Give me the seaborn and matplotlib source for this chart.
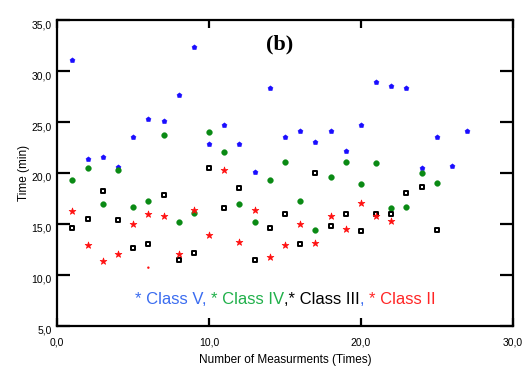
import matplotlib
matplotlib.use("Agg")
import matplotlib.pyplot as plt
import matplotlib.transforms as mtransforms
import seaborn as sns
import pandas as pd

# ---- data ----
x_v = list(range(1, 28))
class_v = [31.05, 21.4, 21.6, 20.56, 23.53, 25.33, 25.13, 27.65, 32.39, 22.81,
           24.74, 22.81, 20.1, 28.37, 23.53, 24.12, 23.01, 24.12, 22.19, 24.74,
           28.95, 28.56, 28.37, 20.52, 23.53, 20.72, 24.12]
x_iv = list(range(1, 26))
class_iv = [19.28, 20.49, 16.99, 20.3, 16.67, 17.29, 23.73, 15.17, 16.05, 24.02,
            22.03, 16.99, 15.17, 19.28, 21.11, 17.29, 14.38, 19.61, 21.11, 18.89,
            21.01, 16.6, 16.7, 20.0, 18.99]
x_iii = list(range(1, 26))
class_iii = [14.58, 15.46, 18.2, 15.36, 12.65, 13.07, 17.88, 11.47, 12.16, 20.49,
             16.57, 18.56, 11.47, 14.58, 15.98, 13.04, 20.0, 14.77, 15.98, 14.28,
             15.98, 15.98, 18.01, 18.6, 14.38]
x_ii = list(range(1, 23))
class_ii = [16.27, 12.94, 11.34, 12.03, 14.97, 15.98, 15.78, 12.03, 16.37, 13.95,
            20.3, 13.27, 16.37, 11.73, 12.94, 14.97, 13.14, 15.75, 14.48, 17.09,
            15.78, 15.26]
x_ii_extra = [6]
class_ii_extra = [10.72]

x_ticks = [0, 10, 20, 30]
y_ticks = [5, 10, 15, 20, 25, 30, 35]
x_label = "Number of Measurments (Times)"
y_label = "Time (min)"
panel = "(b)"

sns.set_theme(style="ticks")
plt.rcParams["font.family"] = ["Liberation Sans", "DejaVu Sans"]
plt.rcParams["text.color"] = "black"
plt.rcParams["axes.labelcolor"] = "black"

fig = plt.figure(figsize=(5.27, 3.72), dpi=100)
ax = fig.add_axes([0.1087, 0.1237, 0.8642, 0.8225])

df_v = pd.DataFrame({"x": x_v, "y": class_v})
df_iv = pd.DataFrame({"x": x_iv, "y": class_iv})
df_iii = pd.DataFrame({"x": x_iii, "y": class_iii})
df_ii = pd.DataFrame({"x": x_ii, "y": class_ii})
df_ii2 = pd.DataFrame({"x": x_ii_extra, "y": class_ii_extra})

sns.scatterplot(data=df_v, x="x", y="y", ax=ax, marker="p", color="#1a0dff",
                s=15, edgecolor="#1a0dff", linewidth=0.3)
sns.scatterplot(data=df_iv, x="x", y="y", ax=ax, marker="o", color="#0a8a14",
                s=17, edgecolor="#0a8a14", linewidth=0.3)
sns.scatterplot(data=df_iii, x="x", y="y", ax=ax, marker="s", facecolor="white",
                s=12, edgecolor="black", linewidth=1.4)
sns.scatterplot(data=df_ii, x="x", y="y", ax=ax, marker="*", color="#ff1010",
                s=26, edgecolor="#ff1010", linewidth=0.5)
sns.scatterplot(data=df_ii2, x="x", y="y", ax=ax, marker="o", color="#ff1010",
                s=3, edgecolor="none")

ax.set_xlim(0, 30)
ax.set_ylim(5, 35)
ax.set_xticks(x_ticks)
ax.set_yticks(y_ticks)
ax.set_xticklabels([f"{v:.1f}".replace(".", ",") for v in x_ticks])
ax.set_yticklabels([f"{v:.1f}".replace(".", ",") for v in y_ticks])
for s in ax.spines.values():
    s.set_visible(True)
    s.set_linewidth(1.6)
    s.set_color("black")
ax.tick_params(axis="y", direction="in", length=9.5, width=1.6, left=True,
               right=True, labelsize=7.5, pad=4, colors="black")
ax.tick_params(axis="x", direction="in", length=6, width=1.6, bottom=True,
               top=True, labelsize=7.5, pad=8, colors="black")
shift = mtransforms.ScaledTranslation(0, -4 / 100, fig.dpi_scale_trans)
for lbl in ax.get_yticklabels():
    lbl.set_transform(lbl.get_transform() + shift)
ax.set_xlabel(x_label, fontsize=8.5, labelpad=5, color="black")
ax.set_ylabel(y_label, fontsize=8.5, labelpad=1, color="black")

ax.text(0.458, 0.92, panel, transform=ax.transAxes, fontsize=16, fontweight="bold",
        family="Liberation Serif", ha="left", va="center", color="black")

# coloured caption
segments = [("* Class V, ", "#3a6cf0"), ("* Class IV", "#20b04a"),
            (",* Class III", "black"), (", ", "#3a6cf0"), ("* Class II", "#ff2525")]
fig.canvas.draw()
renderer = fig.canvas.get_renderer()
texts = []
for s, c in segments:
    t = fig.text(0, 0, s, fontsize=12, color=c, ha="left", va="center")
    texts.append(t)
widths = [t.get_window_extent(renderer).width for t in texts]
total = sum(widths)
cx, cy = 285, 372 - 299
start = cx - total / 2
for t, w in zip(texts, widths):
    t.set_position((start / 527, cy / 372))
    start += w

fig.savefig("out.png", dpi=100)
